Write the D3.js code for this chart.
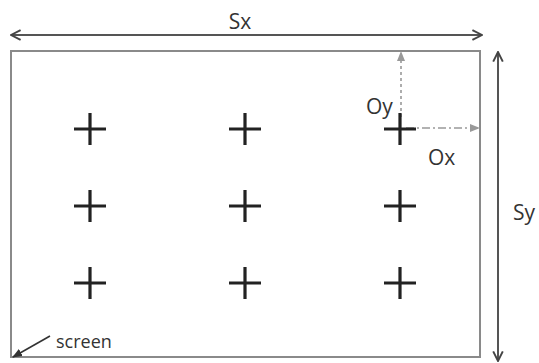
<!DOCTYPE html>
<html>
<head>
<meta charset="utf-8">
<script src="https://cdn.jsdelivr.net/npm/d3@7"></script>
<style>
  body { margin: 0; background: #fff; }
  svg { display: block; }
  text { font-family: "Open Sans", "DejaVu Sans", sans-serif; fill: #333; }
</style>
</head>
<body>
<script>
// grid of target crosses (column / row indices)
const cols = [0, 1, 2];
const rows = [0, 1, 2];
// labels
const screenLabel = 'screen';
const sizeLabels = ['Sx', 'Sy'];
const offsetLabels = ['Ox', 'Oy'];

const width = 539, height = 363;
const svg = d3.select('body').append('svg')
    .attr('width', width)
    .attr('height', height);

const x = d3.scalePoint().domain(cols).range([90, 400]);
const y = d3.scalePoint().domain(rows).range([129, 283]);

const screen = { x0: 11, y0: 51, x1: 480, y1: 357 };

const defs = svg.append('defs');
const marker = (id, color, w) => defs.append('marker')
    .attr('id', id)
    .attr('viewBox', '0 0 10 10')
    .attr('refX', 9).attr('refY', 5)
    .attr('markerWidth', w).attr('markerHeight', w)
    .attr('markerUnits', 'userSpaceOnUse')
    .attr('orient', 'auto-start-reverse')
  .append('path')
    .attr('d', 'M1,1 L9,5 L1,9')
    .attr('fill', 'none')
    .attr('stroke', color)
    .attr('stroke-width', 1.6);
marker('open', '#444', 12);
defs.append('marker')
    .attr('id', 'solid')
    .attr('viewBox', '0 0 10 10')
    .attr('refX', 9).attr('refY', 5)
    .attr('markerWidth', 10).attr('markerHeight', 10)
    .attr('markerUnits', 'userSpaceOnUse')
    .attr('orient', 'auto')
  .append('path')
    .attr('d', 'M0,1 L10,5 L0,9 Z')
    .attr('fill', '#999');
defs.append('marker')
    .attr('id', 'dark')
    .attr('viewBox', '0 0 10 10')
    .attr('refX', 9).attr('refY', 5)
    .attr('markerWidth', 10).attr('markerHeight', 10)
    .attr('markerUnits', 'userSpaceOnUse')
    .attr('orient', 'auto')
  .append('path')
    .attr('d', 'M0,1 L10,5 L0,9 Z')
    .attr('fill', '#333');

// screen rectangle
svg.append('rect')
    .attr('x', screen.x0).attr('y', screen.y0)
    .attr('width', screen.x1 - screen.x0)
    .attr('height', screen.y1 - screen.y0)
    .attr('fill', 'none')
    .attr('stroke', '#8a8a8a')
    .attr('stroke-width', 2);

// Sx dimension arrow
svg.append('line')
    .attr('x1', screen.x0).attr('x2', screen.x1 + 2)
    .attr('y1', 35).attr('y2', 35)
    .attr('stroke', '#555').attr('stroke-width', 2)
    .attr('marker-start', 'url(#open)')
    .attr('marker-end', 'url(#open)');
svg.append('text')
    .attr('x', 240).attr('y', 29)
    .attr('text-anchor', 'middle')
    .attr('font-size', 21)
    .text(sizeLabels[0]);

// Sy dimension arrow
svg.append('line')
    .attr('x1', 498).attr('x2', 498)
    .attr('y1', screen.y0 + 1).attr('y2', 361)
    .attr('stroke', '#555').attr('stroke-width', 2)
    .attr('marker-start', 'url(#open)')
    .attr('marker-end', 'url(#open)');
svg.append('text')
    .attr('x', 513).attr('y', 220)
    .attr('font-size', 21)
    .text(sizeLabels[1]);

// offset guides from the top-right cross
const cx = x(cols[cols.length - 1]), cy = y(rows[0]);
svg.append('line')
    .attr('x1', cx + 1).attr('x2', cx + 1)
    .attr('y1', cy - 12).attr('y2', screen.y0 + 1)
    .attr('stroke', '#999').attr('stroke-width', 1.6)
    .attr('stroke-dasharray', '3,3')
    .attr('marker-end', 'url(#solid)');
svg.append('line')
    .attr('x1', cx + 6).attr('x2', screen.x1 - 1)
    .attr('y1', cy - 1).attr('y2', cy - 1)
    .attr('stroke', '#999').attr('stroke-width', 1.6)
    .attr('stroke-dasharray', '8,3,2,3')
    .attr('marker-end', 'url(#solid)');
svg.append('text')
    .attr('x', 428).attr('y', 165)
    .attr('font-size', 21)
    .text(offsetLabels[0]);
svg.append('text')
    .attr('x', 366).attr('y', 114)
    .attr('font-size', 21)
    .text(offsetLabels[1]);

// crosses
const grid = d3.cross(cols, rows);
svg.append('g')
    .attr('stroke', '#222')
    .attr('stroke-width', 3.2)
  .selectAll('path')
  .data(grid)
  .join('path')
    .attr('d', ([c, r]) => `M${x(c) - 16},${y(r)}H${x(c) + 16}M${x(c)},${y(r) - 16}V${y(r) + 16}`);

// screen pointer
svg.append('line')
    .attr('x1', 50).attr('y1', 336)
    .attr('x2', 13).attr('y2', 357)
    .attr('stroke', '#333').attr('stroke-width', 1.6)
    .attr('marker-end', 'url(#dark)');
svg.append('text')
    .attr('x', 56).attr('y', 348)
    .attr('font-size', 18)
    .text(screenLabel);
</script>
</body>
</html>
